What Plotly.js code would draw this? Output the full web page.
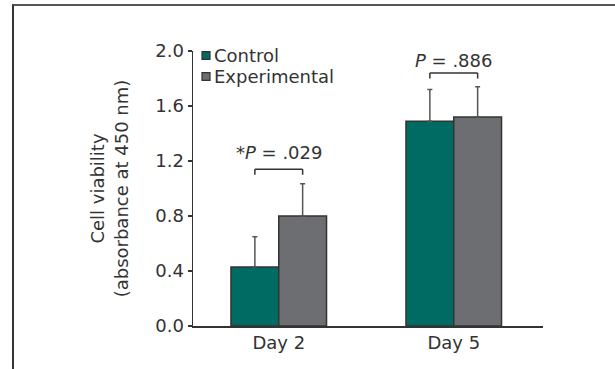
<!DOCTYPE html>
<html>
<head>
<meta charset="utf-8">
<script src="https://cdn.plot.ly/plotly-3.0.1.min.js"></script>
<style>
  html, body { margin: 0; padding: 0; background: #fff; }
  #wrap { position: relative; width: 615px; height: 369px; overflow: hidden; }
  #chart { position: absolute; left: 0; top: 0; width: 615px; height: 369px; }
  #frame { position: absolute; left: 12px; top: 4px; width: 700px; height: 400px;
           border-top: 2px solid #555; border-left: 2px solid #333; pointer-events: none; }
</style>
</head>
<body>
<div id="wrap">
  <div id="chart"></div>
  <div id="frame"></div>
</div>
<script>
// ---- data ----
const categories = ['Day 2', 'Day 5'];
const seriesNames = ['Control', 'Experimental'];
const controlValues = [0.43, 1.49];
const controlErrors = [0.22, 0.23];
const experimentalValues = [0.80, 1.52];
const experimentalErrors = [0.235, 0.22];
const pLabels = ['*<i>P</i> = .029', '<i>P</i> = .886'];
const yTickValues = [0, 0.4, 0.8, 1.2, 1.6, 2.0];
const yTickLabels = ['0.0', '0.4', '0.8', '1.2', '1.6', '2.0'];

// ---- styling / layout ----
const FONT = 'DejaVu Sans, Liberation Sans, Arial, sans-serif';
const TEXT = '#333333';
const seriesColors = ['#006b63', '#6d6e71'];
const bargap = 0.454;
const barHalf = (1 - bargap) / 4; // offset of each bar centre from category centre
const bracketTop = [1.14, 1.84];
const bracketDrop = 0.04;
const labelY = [1.265, 1.93];

function barTrace(name, vals, errs, color) {
  return {
    type: 'bar', name: name, x: categories, y: vals, showlegend: false,
    marker: { color: color, line: { color: '#333333', width: 1.5 } },
    error_y: { type: 'data', symmetric: false, array: errs,
               arrayminus: vals.map(() => 0), color: '#555555', thickness: 1.5, width: 2.5 }
  };
}

const data = [
  barTrace(seriesNames[0], controlValues, controlErrors, seriesColors[0]),
  barTrace(seriesNames[1], experimentalValues, experimentalErrors, seriesColors[1])
];

const shapes = [];
categories.forEach((c, i) => {
  const x0 = i - barHalf, x1 = i + barHalf, yt = bracketTop[i], yb = yt - bracketDrop;
  const line = { color: '#333333', width: 1.5 };
  shapes.push({ type: 'line', xref: 'x', yref: 'y', x0: x0, x1: x1, y0: yt, y1: yt, line: line });
  shapes.push({ type: 'line', xref: 'x', yref: 'y', x0: x0, x1: x0, y0: yt, y1: yb, line: line });
  shapes.push({ type: 'line', xref: 'x', yref: 'y', x0: x1, x1: x1, y0: yt, y1: yb, line: line });
});

const annotations = categories.map((c, i) => ({
  xref: 'x', yref: 'y', x: i, y: labelY[i], text: pLabels[i], showarrow: false,
  font: { family: FONT, size: 18, color: TEXT }, xanchor: 'center', yanchor: 'middle'
}));

// compact legend (swatch + label), placed in paper coordinates
const legendX = 0.0257, legendSw = 0.0229, legendTextX = 0.0571;
const legendRowY = [0.9836, 0.9073], legendSwH = 0.028;
seriesNames.forEach((name, i) => {
  shapes.push({ type: 'rect', xref: 'paper', yref: 'paper',
    x0: legendX, x1: legendX + legendSw,
    y0: legendRowY[i] - legendSwH / 2, y1: legendRowY[i] + legendSwH / 2,
    fillcolor: seriesColors[i], line: { color: '#333333', width: 1.2 } });
  annotations.push({ xref: 'paper', yref: 'paper', x: legendTextX, y: legendRowY[i],
    xanchor: 'left', yanchor: 'middle', text: name, showarrow: false, borderpad: 0,
    font: { family: FONT, size: 18, color: TEXT } });
});

const layout = {
  width: 615, height: 369,
  margin: { l: 193, r: 72, t: 51, b: 43 },
  paper_bgcolor: 'rgba(0,0,0,0)', plot_bgcolor: 'rgba(0,0,0,0)',
  font: { family: FONT, size: 18, color: TEXT },
  barmode: 'group', bargap: bargap, bargroupgap: 0,
  showlegend: false,
  xaxis: { type: 'category', range: [-0.49, 1.51], showline: true, linecolor: '#333333',
           linewidth: 1.5, ticks: '', showgrid: false, zeroline: false,
           tickfont: { family: FONT, size: 18, color: TEXT } },
  yaxis: { range: [0, 2.0], tickvals: yTickValues, ticktext: yTickLabels, showline: true,
           linecolor: '#333333', linewidth: 1.5, ticks: 'outside', ticklen: 4, tickwidth: 1.5,
           tickcolor: '#333333', showgrid: false, zeroline: false,
           tickfont: { family: FONT, size: 18, color: TEXT } ,
           title: { text: 'Cell viability<br>(absorbance at 450 nm)', standoff: 22,
                    font: { family: FONT, size: 18, color: TEXT } } },
  shapes: shapes,
  annotations: annotations
};

Plotly.newPlot('chart', data, layout, { staticPlot: true, displayModeBar: false });
</script>
</body>
</html>
